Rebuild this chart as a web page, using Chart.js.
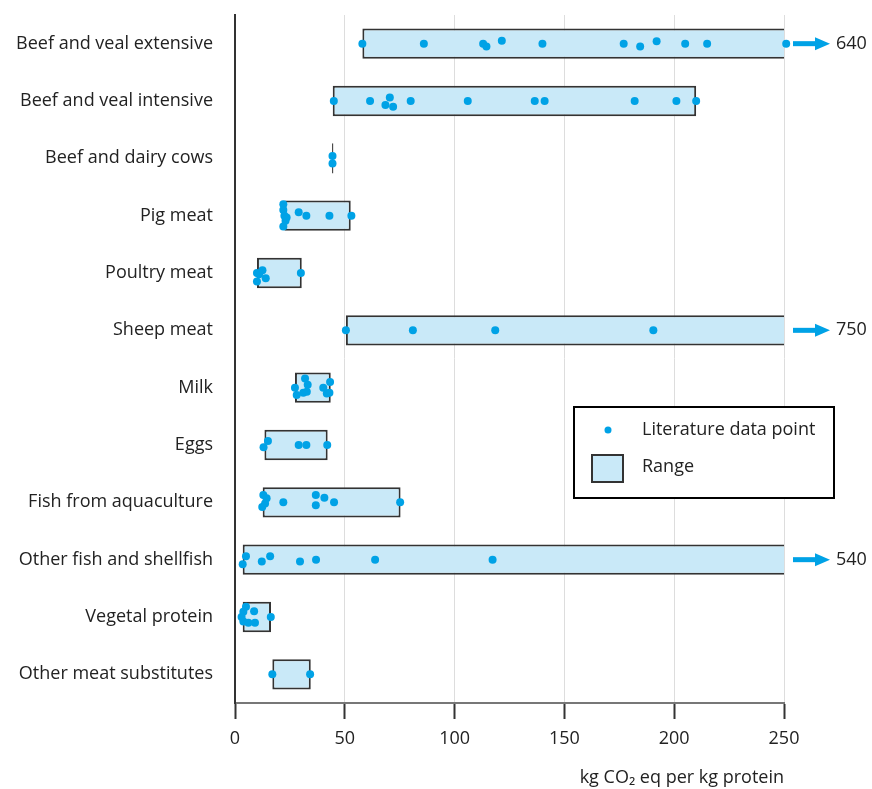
<!DOCTYPE html>
<html>
<head>
<meta charset="utf-8">
<script src="https://cdn.jsdelivr.net/npm/chart.js@4.4.1/dist/chart.umd.min.js"></script>
<style>
  html, body { margin: 0; padding: 0; background: #fff; }
  #wrap { width: 872px; height: 789px; }
</style>
</head>
<body>
<div id="wrap"><canvas id="chart"></canvas></div>
<script>
// Categories (top to bottom)
const categories = [
    'Beef and veal extensive',
    'Beef and veal intensive',
    'Beef and dairy cows',
    'Pig meat',
    'Poultry meat',
    'Sheep meat',
    'Milk',
    'Eggs',
    'Fish from aquaculture',
    'Other fish and shellfish',
    'Vegetal protein',
    'Other meat substitutes'
];

// Range per category (kg CO2 eq per kg protein)
const rangeLow  = [58, 44.5, 44.2, 22.5, 10, 50.5, 27.3, 13.4, 12.6, 3.5, 3.5, 17];
const rangeHigh = [640, 210, 44.8, 52.7, 30.4, 750, 43.6, 42.2, 75.4, 540, 16.4, 34.5];

// Literature data points per category, with small vertical jitter (category units)
const beefExtPts    = [58, 86, 113, 114.5, 121.5, 140, 177, 184.5, 192, 205, 215, 251];
const beefExtJit    = [0, 0, 0, 0.05, -0.05, 0, 0, 0.05, -0.04, 0, 0, 0];
const beefIntPts    = [45, 61.5, 68.5, 70.5, 72, 80, 106, 136.5, 141, 182, 201, 210];
const beefIntJit    = [0, 0, 0.07, -0.06, 0.1, 0, 0, 0, 0, 0, 0, 0];
const beefDairyPts  = [44.4, 44.4];
const beefDairyJit  = [-0.04, 0.09];
const pigPts        = [22, 22, 22.5, 23, 22, 23.5, 29, 32.5, 43, 53];
const pigJit        = [-0.2, -0.1, 0, 0.09, 0.19, 0.03, -0.06, 0, 0, 0];
const poultryPts    = [10, 12.5, 14, 10, 11, 30];
const poultryJit    = [0, -0.05, 0.09, 0.15, 0.02, 0];
const sheepPts      = [50.5, 81, 118.5, 190.5];
const sheepJit      = [0, 0, 0, 0];
const milkPts       = [27.3, 28.1, 31.9, 33.1, 32.7, 31.1, 40.2, 41.8, 43.3, 43];
const milkJit       = [0, 0.13, -0.16, -0.05, 0.07, 0.09, 0, 0.1, -0.1, 0.09];
const eggsPts       = [13, 15, 29, 32.5, 42];
const eggsJit       = [0.04, -0.07, 0, 0, 0];
const fishAquaPts   = [12.9, 14.4, 13.7, 12.4, 22, 36.8, 40.7, 36.8, 45.1, 75.2];
const fishAquaJit   = [-0.13, -0.07, 0.02, 0.08, 0, -0.13, -0.08, 0.05, 0, 0];
const otherFishPts  = [5, 3.5, 12.2, 16, 29.6, 36.9, 63.8, 117.3];
const otherFishJit  = [-0.06, 0.08, 0.03, -0.06, 0.03, 0, 0, 0];
const vegetalPts    = [3.8, 5, 8.7, 3.8, 6.1, 9.1, 3, 16.3];
const vegetalJit    = [-0.09, -0.18, -0.1, 0.08, 0.1, 0.1, 0, 0];
const meatSubsPts   = [17, 34.2];
const meatSubsJit   = [0, 0];

const pointValues = [beefExtPts, beefIntPts, beefDairyPts, pigPts, poultryPts, sheepPts,
    milkPts, eggsPts, fishAquaPts, otherFishPts, vegetalPts, meatSubsPts];
const pointJitter = [beefExtJit, beefIntJit, beefDairyJit, pigJit, poultryJit, sheepJit,
    milkJit, eggsJit, fishAquaJit, otherFishJit, vegetalJit, meatSubsJit];

// x axis ticks
const xTicks = [0, 50, 100, 150, 200, 250];
const xMax = 250;

const FONT = '"Open Sans", "DejaVu Sans", sans-serif';
const FS = 18;
const TEXT = '#222';
const DOT = '#00a2e6';
const FILL = '#c9e9f8';
const EDGE = '#333';

const rangeData = rangeLow.map((lo, i) => ({ x: [lo, rangeHigh[i]], y: i }));
const scatterData = [];
pointValues.forEach((vals, i) => {
    vals.forEach((v, k) => scatterData.push({ x: v, y: i + pointJitter[i][k] }));
});

// Arrows + overflow labels for ranges running past the axis
const overflowArrows = {
    id: 'overflowArrows',
    afterDatasetsDraw(chart) {
        const { ctx, scales: { x, y } } = chart;
        ctx.save();
        rangeHigh.forEach((hi, i) => {
            if (hi <= xMax) return;
            const py = y.getPixelForValue(i);
            const x0 = x.right + 9;
            const hb = x.right + 31;
            const tip = x.right + 46;
            ctx.fillStyle = DOT;
            ctx.fillRect(x0, py - 2.5, hb - x0 + 1, 5);
            ctx.beginPath();
            ctx.moveTo(hb, py - 6.5);
            ctx.lineTo(tip, py);
            ctx.lineTo(hb, py + 6.5);
            ctx.closePath();
            ctx.fill();
            ctx.fillStyle = TEXT;
            ctx.font = FS + 'px ' + FONT;
            ctx.textAlign = 'left';
            ctx.textBaseline = 'middle';
            ctx.fillText(String(hi), tip + 6, py);
        });
        ctx.restore();
    }
};

// Boxed legend inside the plot
const boxLegend = {
    id: 'boxLegend',
    afterDraw(chart) {
        const { ctx } = chart;
        ctx.save();
        ctx.fillStyle = '#fff';
        ctx.fillRect(574, 407, 260, 91);
        ctx.strokeStyle = '#000';
        ctx.lineWidth = 2;
        ctx.strokeRect(574, 407, 260, 91);

        ctx.fillStyle = DOT;
        ctx.beginPath();
        ctx.arc(608, 430, 3.5, 0, Math.PI * 2);
        ctx.fill();

        ctx.fillStyle = FILL;
        ctx.fillRect(592, 455, 31, 27);
        ctx.strokeStyle = EDGE;
        ctx.lineWidth = 2;
        ctx.strokeRect(592, 455, 31, 27);

        ctx.fillStyle = TEXT;
        ctx.font = FS + 'px ' + FONT;
        ctx.textAlign = 'left';
        ctx.textBaseline = 'middle';
        ctx.fillText('Literature data point', 642, 430);
        ctx.fillText('Range', 642, 467);
        ctx.restore();
    }
};

new Chart(document.getElementById('chart'), {
    type: 'bar',
    data: {
        datasets: [
            {
                type: 'scatter',
                label: 'Literature data point',
                data: scatterData,
                pointRadius: 4,
                pointHoverRadius: 4,
                backgroundColor: DOT,
                borderWidth: 0,
                clip: 8,
                order: 0
            },
            {
                type: 'bar',
                label: 'Range',
                data: rangeData,
                backgroundColor: FILL,
                borderColor: EDGE,
                borderWidth: 2,
                borderSkipped: false,
                grouped: false,
                barPercentage: 0.53,
                categoryPercentage: 1,
                clip: 0,
                order: 1
            }
        ]
    },
    options: {
        indexAxis: 'y',
        responsive: true,
        maintainAspectRatio: false,
        animation: false,
        layout: { padding: { top: 15, right: 88, left: 0, bottom: 0 } },
        plugins: {
            legend: { display: false },
            tooltip: { enabled: false }
        },
        scales: {
            x: {
                type: 'linear',
                position: 'bottom',
                min: 0,
                max: xMax,
                offset: false,
                afterBuildTicks: (s) => { s.ticks = xTicks.map(v => ({ value: v })); },
                afterFit: (s) => { s.height = 86; s.paddingLeft = 0; s.paddingRight = 0; },
                grid: {
                    offset: false,
                    color: (c) => c.tick && c.tick.value === 0 ? 'rgba(0,0,0,0)' : '#dddddd',
                    lineWidth: 1,
                    tickColor: '#333',
                    tickWidth: 2,
                    tickLength: 16
                },
                border: { display: true, color: '#777', width: 2 },
                ticks: {
                    color: TEXT,
                    font: { family: FONT, size: FS },
                    padding: 9
                },
                title: {
                    display: true,
                    text: 'kg CO\u2082 eq per kg protein',
                    align: 'end',
                    color: TEXT,
                    font: { family: FONT, size: FS },
                    padding: { top: 0, bottom: 0 }
                }
            },
            y: {
                type: 'linear',
                position: 'left',
                min: -0.5,
                max: categories.length - 0.5,
                reverse: true,
                offset: false,
                afterBuildTicks: (s) => { s.ticks = categories.map((c, i) => ({ value: i })); },
                afterFit: (s) => { s.width = 235; s.paddingTop = 0; s.paddingBottom = 0; },
                grid: { display: false, drawTicks: false, offset: false },
                border: { display: true, color: '#333', width: 2 },
                ticks: {
                    color: TEXT,
                    font: { family: FONT, size: FS },
                    padding: 22,
                    callback: (v) => categories[v] ?? ''
                }
            }
        }
    },
    plugins: [overflowArrows, boxLegend]
});
</script>
</body>
</html>
